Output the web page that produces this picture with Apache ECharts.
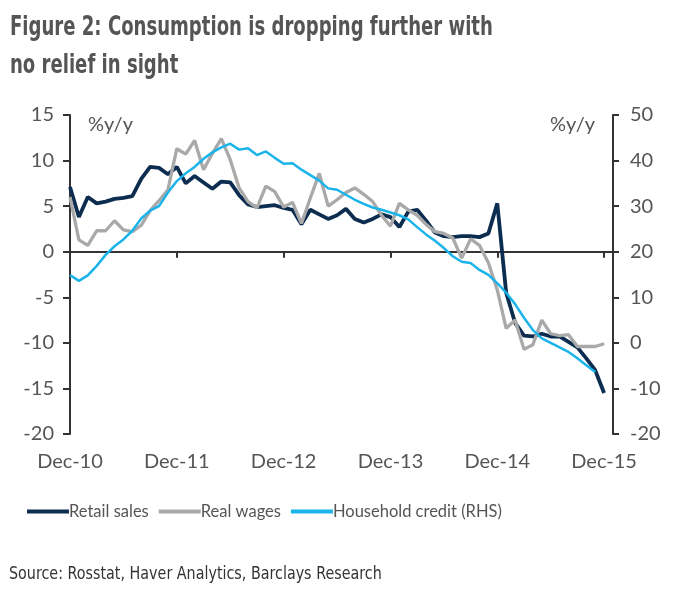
<!DOCTYPE html>
<html>
<head>
<meta charset="utf-8">
<script src="https://cdn.jsdelivr.net/npm/echarts@6/dist/echarts.min.js"></script>
<style>
html,body{margin:0;padding:0;background:#fff;}
#c{width:684px;height:596px;}
</style>
</head>
<body>
<div id="c"></div>
<script>
// Monthly categories, Dec-10 .. Jan-16
const months = [
 'Dec-10','Jan-11','Feb-11','Mar-11','Apr-11','May-11','Jun-11','Jul-11','Aug-11','Sep-11','Oct-11','Nov-11',
 'Dec-11','Jan-12','Feb-12','Mar-12','Apr-12','May-12','Jun-12','Jul-12','Aug-12','Sep-12','Oct-12','Nov-12',
 'Dec-12','Jan-13','Feb-13','Mar-13','Apr-13','May-13','Jun-13','Jul-13','Aug-13','Sep-13','Oct-13','Nov-13',
 'Dec-13','Jan-14','Feb-14','Mar-14','Apr-14','May-14','Jun-14','Jul-14','Aug-14','Sep-14','Oct-14','Nov-14',
 'Dec-14','Jan-15','Feb-15','Mar-15','Apr-15','May-15','Jun-15','Jul-15','Aug-15','Sep-15','Oct-15','Nov-15',
 'Dec-15','Jan-16'
];
// Retail sales, % y/y (LHS)
const retailSales = [
 7.1, 3.8, 6.0, 5.3, 5.5, 5.8, 5.9, 6.1, 8.0, 9.3, 9.2, 8.5,
 9.3, 7.5, 8.3, 7.6, 6.9, 7.7, 7.6, 6.2, 5.2, 4.9, 5.0, 5.1,
 4.8, 4.6, 3.0, 4.6, 4.1, 3.6, 4.0, 4.7, 3.6, 3.2, 3.6, 4.1,
 3.8, 2.7, 4.4, 4.6, 3.4, 2.1, 1.7, 1.6, 1.7, 1.7, 1.6, 2.0,
 5.3, -4.5, -7.8, -9.2, -9.3, -9.0, -9.3, -9.3, -9.9, -10.5, -11.7, -13.0,
 -15.5
];
// Real wages, % y/y (LHS)
const realWages = [
 6.0, 1.3, 0.7, 2.3, 2.3, 3.4, 2.4, 2.2, 2.9, 4.5, 5.6, 6.8,
 11.3, 10.7, 12.2, 9.0, 10.8, 12.4, 10.1, 7.0, 5.5, 4.8, 7.2, 6.6,
 4.9, 5.4, 3.1, 5.9, 8.6, 5.0, 5.7, 6.5, 7.0, 6.3, 5.5, 4.0,
 2.8, 5.3, 4.6, 4.0, 3.0, 2.2, 2.0, 1.5, -0.7, 1.4, 0.7, -1.2,
 -4.2, -8.4, -7.5, -10.7, -10.2, -7.5, -9.0, -9.2, -9.1, -10.4, -10.4, -10.4,
 -10.1
];
// Household credit, % y/y (RHS)
const householdCredit = [
 14.9, 13.6, 14.8, 16.9, 19.3, 21.2, 22.7, 24.6, 27.3, 29.0, 30.0, 33.0,
 35.5, 37.2, 38.6, 40.4, 41.8, 42.9, 43.7, 42.4, 42.7, 41.2, 42.0, 40.6,
 39.3, 39.4, 38.0, 36.8, 35.6, 33.9, 33.6, 32.5, 31.4, 30.5, 29.7, 29.2,
 28.6, 28.0, 27.1, 25.4, 23.8, 22.4, 20.8, 19.0, 17.8, 17.5, 16.0, 14.9,
 13.1, 11.0, 8.5, 5.5, 2.8, 1.0, 0.0, -1.0, -2.0, -3.4, -4.9, -6.4
];
const seriesNames = ['Retail sales', 'Real wages', 'Household credit (RHS)'];
const titleLines = ['Figure 2: Consumption is dropping further with', 'no relief in sight'];
const sourceText = 'Source: Rosstat, Haver Analytics, Barclays Research';
const axisUnit = '%y/y';

const AX = '#333333';
const LBL = '#555555';
const FONT = 'Lato, "Open Sans", sans-serif';
const showEvery12 = (idx) => idx % 12 === 0;

const chart = echarts.init(document.getElementById('c'), null, {renderer: 'canvas'});
chart.setOption({
  animation: false,
  backgroundColor: '#ffffff',
  grid: {left: 70, right: 71, top: 115, bottom: 162, containLabel: false},
  graphic: [
    {type: 'text', left: 10, top: 15, scaleX: 0.695, style: {text: titleLines[0], fill: '#555555', font: 'bold 26px "DejaVu Sans", Verdana, sans-serif'}},
    {type: 'text', left: 10, top: 53, scaleX: 0.695, style: {text: titleLines[1], fill: '#555555', font: 'bold 26px "DejaVu Sans", Verdana, sans-serif'}},
    {type: 'text', left: 88, top: 115, style: {text: axisUnit, fill: LBL, font: '20px ' + FONT}},
    {type: 'text', right: 89, top: 115, style: {text: axisUnit, fill: LBL, font: '20px ' + FONT}},
    {type: 'text', left: 9, top: 565, scaleX: 0.795, style: {text: sourceText, fill: '#333333', font: '18px "DejaVu Sans", Verdana, sans-serif'}}
  ],
  legend: {
    data: seriesNames,
    left: 22, top: 498,
    icon: 'rect', itemWidth: 42, itemHeight: 4, itemGap: 10,
    textStyle: {color: LBL, fontSize: 16.5, fontFamily: FONT, padding: [0, 0, 0, -5]}
  },
  xAxis: [
    {
      type: 'category', data: months, boundaryGap: false, gridIndex: 0,
      axisLine: {show: true, onZero: true, onZeroAxisIndex: 0, lineStyle: {color: AX, width: 2}},
      axisTick: {show: true, interval: showEvery12, length: 6, lineStyle: {color: AX, width: 2}},
      axisLabel: {show: false},
      splitLine: {show: false}
    },
    {
      type: 'category', data: months, boundaryGap: false, gridIndex: 0, position: 'bottom',
      axisLine: {show: false, onZero: false},
      axisTick: {show: false},
      axisLabel: {show: true, interval: showEvery12, color: LBL, fontSize: 20, fontFamily: FONT, margin: 18},
      splitLine: {show: false}
    }
  ],
  yAxis: [
    {
      type: 'value', min: -20, max: 15, interval: 5, position: 'left',
      axisLine: {show: true, lineStyle: {color: AX, width: 2}},
      axisTick: {show: true, length: 7, lineStyle: {color: AX, width: 2}},
      axisLabel: {color: LBL, fontSize: 20, fontFamily: FONT, margin: 16},
      splitLine: {show: false}
    },
    {
      type: 'value', min: -20, max: 50, interval: 10, position: 'right',
      axisLine: {show: true, lineStyle: {color: AX, width: 2}},
      axisTick: {show: true, length: 6, lineStyle: {color: AX, width: 2}},
      axisLabel: {color: LBL, fontSize: 20, fontFamily: FONT, margin: 17},
      splitLine: {show: false}
    }
  ],
  series: [
    {name: seriesNames[0], type: 'line', data: retailSales, xAxisIndex: 0, yAxisIndex: 0,
     showSymbol: false, symbol: 'none', color: '#0c2d4f', lineStyle: {color: '#0c2d4f', width: 3.8}, z: 3},
    {name: seriesNames[1], type: 'line', data: realWages, xAxisIndex: 0, yAxisIndex: 0,
     showSymbol: false, symbol: 'none', color: '#a9a9a9', lineStyle: {color: '#a9a9a9', width: 3.3}, z: 4},
    {name: seriesNames[2], type: 'line', data: householdCredit, xAxisIndex: 0, yAxisIndex: 1,
     showSymbol: false, symbol: 'none', color: '#1ab4ea', lineStyle: {color: '#1ab4ea', width: 2.5}, z: 5}
  ]
});
</script>
</body>
</html>
